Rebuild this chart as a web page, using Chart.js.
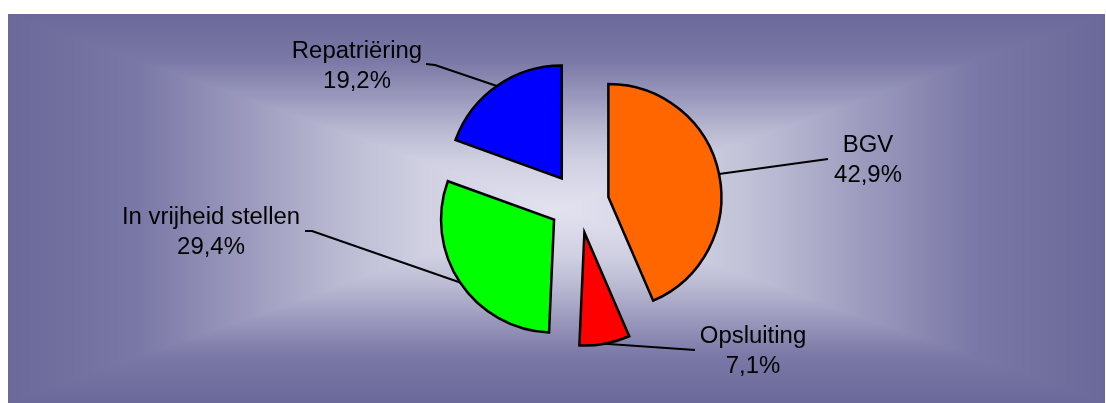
<!DOCTYPE html>
<html>
<head>
<meta charset="utf-8">
<title>Afloop</title>
<style>
  html, body { margin: 0; padding: 0; background: #ffffff; }
  #wrap { position: relative; width: 1106px; height: 403px; }
</style>
<script src="https://cdn.jsdelivr.net/npm/chart.js@4/dist/chart.umd.min.js"></script>
</head>
<body>
<div id="wrap"><canvas id="pie"></canvas></div>
<script>
// Slice categories and their shares (percent)
const categories = ['BGV', 'Opsluiting', 'In vrijheid stellen', 'Repatriëring'];
const shares = [42.9, 7.1, 29.4, 19.2];
const sliceColors = ['#ff6600', '#ff0000', '#00ff00', '#0000ff'];

// Label placement, relative to the pie centre:
// text = centre of the first text line's baseline, leader = [label end, optional elbow]
const labelLayout = [
  { text: [289, -51], leader: [[249, -44]] },
  { text: [174, 140], leader: [[116, 147]] },
  { text: [-368, 21], leader: [[-274, 28], [-267, 28]] },
  { text: [-222, -145], leader: [[-153, -139], [-144, -138]] }
];

function formatShare(v) {
  return v.toFixed(1).replace('.', ',') + '%';
}

function lerp(a, b, t) { return a + (b - a) * t; }

// Rectangular "from the centre" gradient behind the pie
const backdrop = {
  id: 'backdrop',
  beforeDraw(chart, args, opts) {
    const { ctx } = chart;
    const { x, y, w, h, stops } = opts;
    if (!this._img) {
      const off = document.createElement('canvas');
      off.width = w; off.height = h;
      const octx = off.getContext('2d');
      const img = octx.createImageData(w, h);
      const hw = w / 2, hh = h / 2;
      for (let py = 0; py < h; py++) {
        for (let px = 0; px < w; px++) {
          const t = Math.min(1, Math.max(Math.abs(px + 0.5 - hw) / hw, Math.abs(py + 0.5 - hh) / hh));
          let k = 1;
          while (k < stops.length - 1 && stops[k][0] < t) k++;
          const s0 = stops[k - 1], s1 = stops[k];
          const f = Math.max(0, Math.min(1, (t - s0[0]) / (s1[0] - s0[0])));
          const o = (py * w + px) * 4;
          img.data[o] = lerp(s0[1][0], s1[1][0], f);
          img.data[o + 1] = lerp(s0[1][1], s1[1][1], f);
          img.data[o + 2] = lerp(s0[1][2], s1[1][2], f);
          img.data[o + 3] = 255;
        }
      }
      octx.putImageData(img, 0, 0);
      this._img = off;
    }
    ctx.save();
    ctx.drawImage(this._img, x, y);
    ctx.restore();
  }
};

// Pull every slice out of the centre along its own bisector
const explode = {
  id: 'explode',
  afterDatasetUpdate(chart, args, opts) {
    const meta = chart.getDatasetMeta(args.index);
    meta.data.forEach(arc => {
      const mid = (arc.startAngle + arc.endAngle) / 2;
      arc.x += Math.cos(mid) * opts.distance;
      arc.y += Math.sin(mid) * opts.distance;
    });
  }
};

// Category + percentage labels with leader lines to the slice rims
const pieLabels = {
  id: 'pieLabels',
  afterDatasetsDraw(chart, args, opts) {
    const { ctx, chartArea } = chart;
    const meta = chart.getDatasetMeta(0);
    const cx = (chartArea.left + chartArea.right) / 2;
    const cy = (chartArea.top + chartArea.bottom) / 2;
    const values = chart.data.datasets[0].data;
    ctx.save();
    meta.data.forEach((arc, i) => {
      const lay = labelLayout[i];
      const mid = (arc.startAngle + arc.endAngle) / 2;
      const ax = arc.x + Math.cos(mid) * arc.outerRadius;
      const ay = arc.y + Math.sin(mid) * arc.outerRadius;
      ctx.beginPath();
      ctx.moveTo(ax, ay);
      for (let k = lay.leader.length - 1; k >= 0; k--) {
        ctx.lineTo(cx + lay.leader[k][0], cy + lay.leader[k][1]);
      }
      ctx.strokeStyle = opts.lineColor;
      ctx.lineWidth = opts.lineWidth;
      ctx.lineJoin = 'miter';
      ctx.stroke();

      const lines = [chart.data.labels[i], formatShare(values[i])];
      ctx.fillStyle = opts.color;
      ctx.font = opts.font;
      ctx.textAlign = 'center';
      ctx.textBaseline = 'alphabetic';
      lines.forEach((txt, j) => {
        ctx.save();
        ctx.translate(cx + lay.text[0], cy + lay.text[1] + j * opts.lineHeight);
        ctx.scale(opts.stretch, 1);
        ctx.fillText(txt, 0, 0);
        ctx.restore();
      });
    });
    ctx.restore();
  }
};

new Chart(document.getElementById('pie'), {
  type: 'pie',
  data: {
    labels: categories,
    datasets: [{
      data: shares,
      backgroundColor: sliceColors,
      borderColor: '#000000',
      borderWidth: 2.5,
      borderJoinStyle: 'miter',
      radius: 113
    }]
  },
  options: {
    responsive: true,
    maintainAspectRatio: false,
    animation: false,
    events: [],
    layout: { padding: { left: 52, right: 0, top: 3, bottom: 0 } },
    plugins: {
      legend: { display: false },
      tooltip: { enabled: false },
      backdrop: {
        x: 8, y: 14, w: 1097, h: 389,
        stops: [
          [0.00, [226, 226, 240]],
          [0.25, [207, 207, 225]],
          [0.40, [185, 185, 210]],
          [0.56, [156, 155, 190]],
          [0.76, [122, 120, 166]],
          [1.00, [106, 105, 153]]
        ]
      },
      explode: { distance: 30 },
      pieLabels: {
        font: '23px "Liberation Sans", Arial, sans-serif',
        color: '#000000',
        lineHeight: 30,
        stretch: 1.04,
        lineColor: '#000000',
        lineWidth: 2
      }
    }
  },
  plugins: [backdrop, explode, pieLabels]
});
</script>
</body>
</html>
